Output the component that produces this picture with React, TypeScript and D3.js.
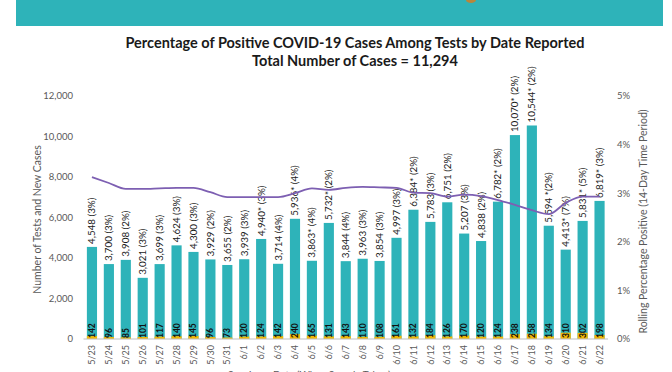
import * as d3 from 'd3';

const dates = [
  '5/23', '5/24', '5/25', '5/26', '5/27', '5/28', '5/29', '5/30', '5/31', '6/1',
  '6/2', '6/3', '6/4', '6/5', '6/6', '6/7', '6/8', '6/9', '6/10', '6/11',
  '6/12', '6/13', '6/14', '6/15', '6/16', '6/17', '6/18', '6/19', '6/20', '6/21', '6/22',
];

const tests = [
  4548, 3700, 3908, 3021, 3699, 4624, 4300, 3929, 3655, 3939,
  4940, 3714, 5936, 3863, 5732, 3844, 3963, 3854, 4997, 6384,
  5783, 6751, 5207, 4838, 6782, 10070, 10544, 5594, 4413, 5831, 6819,
];

const cases = [
  142, 96, 85, 101, 117, 140, 145, 96, 73, 120,
  124, 142, 240, 165, 131, 143, 110, 108, 161, 132,
  184, 126, 170, 120, 124, 238, 258, 134, 310, 302, 198,
];

// text that follows the test count in each bar label
const labelSuffix = [
  ' (3%)', ' (3%)', ' (2%)', ' (3%)', ' (3%)', ' (3%)', ' (3%)', ' (2%)', ' (2%)', ' (3%)',
  '* (3%)', ' (4%)', '* (4%)', '* (4%)', '* (2%)', ' (4%)', ' (3%)', ' (3%)', ' (3%)', '* (2%)',
  ' (3%)', ' (2%)', ' (3%)', ' (2%)', '* (2%)', '* (2%)', '* (2%)', ' *(2%)', '* (7%)', '* (5%)', '* (3%)',
];

// rolling 14-day percentage positive
const rolling = [
  3.33, 3.21, 3.09, 3.09, 3.10, 3.11, 3.11, 3.02, 2.92, 2.92,
  2.92, 2.92, 3.00, 3.10, 3.07, 3.11, 3.13, 3.12, 3.11, 3.01,
  3.00, 2.93, 2.97, 2.94, 2.86, 2.76, 2.65, 2.57, 2.80, 2.93, 2.93,
];

const leftTicks = [0, 2000, 4000, 6000, 8000, 10000, 12000];
const rightTicks = [0, 1, 2, 3, 4, 5];

const W = 672;
const H = 372;
const FONT = 'Lato, "Open Sans", sans-serif';
const TEAL = '#2eb3b9';
const GOLD = '#f2b705';
const PURPLE = '#7d5fb2';
const GREY = '#595959';

export default function App() {
  const x = d3.scaleBand<string>().domain(dates).range([83.5, 608]).paddingInner(0.4).paddingOuter(0.2);
  const y = d3.scaleLinear().domain([0, 12000]).range([339, 96]);
  const yR = d3.scaleLinear().domain([0, 5]).range([339, 96]);
  const fmt = d3.format(',');

  const line = d3
    .line<number>()
    .x((_, i) => (x(dates[i]) as number) + x.bandwidth() / 2)
    .y(d => yR(d))
    .curve(d3.curveMonotoneX);

  return (
    <svg
      width={W}
      height={H}
      style={{ position: 'fixed', left: 0, top: 0, background: '#fff' }}
      fontFamily={FONT}
    >
      <rect x={16} y={0} width={647} height={26} fill={TEAL} />
      <ellipse cx={471} cy={0} rx={5} ry={3} fill="#b8863b" />

      <text x={355} y={48} textAnchor="middle" fontSize={14.5} fontWeight={700} fill="#1a1a1a">
        Percentage of Positive COVID-19 Cases Among Tests by Date Reported
      </text>
      <text x={355} y={66} textAnchor="middle" fontSize={14.5} fontWeight={700} fill="#1a1a1a">
        Total Number of Cases = 11,294
      </text>

      {leftTicks.map(t => (
        <text key={t} x={73} y={y(t)} dy="0.35em" textAnchor="end" fontSize={9.5} fill={GREY}>
          {fmt(t)}
        </text>
      ))}
      {rightTicks.map(t => (
        <text key={t} x={617} y={yR(t)} dy="0.35em" fontSize={9.5} fill={GREY}>
          {t}%
        </text>
      ))}

      <text
        transform={`translate(41,${(y(0) + y(12000)) / 2 + 2}) rotate(-90)`}
        textAnchor="middle"
        fontSize={10.5}
        fill={GREY}
      >
        Number of Tests and New Cases
      </text>
      <text
        transform={`translate(647,${(y(0) + y(12000)) / 2 + 4}) rotate(-90)`}
        textAnchor="middle"
        fontSize={10.5}
        fill={GREY}
      >
        Rolling Percentage Positive (14-Day Time Period)
      </text>

      {dates.map((d, i) => {
        const bx = x(d) as number;
        const cx = bx + x.bandwidth() / 2;
        return (
          <g key={d}>
            <rect x={bx} y={y(tests[i])} width={x.bandwidth()} height={y(0) - y(tests[i])} fill={TEAL} />
            <rect x={bx} y={y(cases[i])} width={x.bandwidth()} height={y(0) - y(cases[i])} fill={GOLD} />
            <text
              transform={`translate(${cx},${y(tests[i]) - 3}) rotate(-90)`}
              dy="0.35em"
              fontSize={9.8}
              fill="#1a1a1a"
            >
              {fmt(tests[i]) + labelSuffix[i]}
            </text>
            <text
              transform={`translate(${cx},${y(0) - 1}) rotate(-90)`}
              dy="0.35em"
              fontSize={8.5}
              fontWeight={700}
              fill="#111"
            >
              {cases[i]}
            </text>
            <text
              transform={`translate(${cx},${y(0) + 6}) rotate(-90)`}
              dy="0.35em"
              textAnchor="end"
              fontSize={9}
              fill={GREY}
            >
              {d}
            </text>
          </g>
        );
      })}

      <line x1={83.5} x2={608} y1={y(0)} y2={y(0)} stroke="#bfbfbf" strokeWidth={1} />

      <path d={line(rolling) ?? ''} fill="none" stroke={PURPLE} strokeWidth={1.8} />

      <text x={228} y={378} fontSize={10} fill={GREY}>
        Specimen Date (When Sample Taken)
      </text>
    </svg>
  );
}
